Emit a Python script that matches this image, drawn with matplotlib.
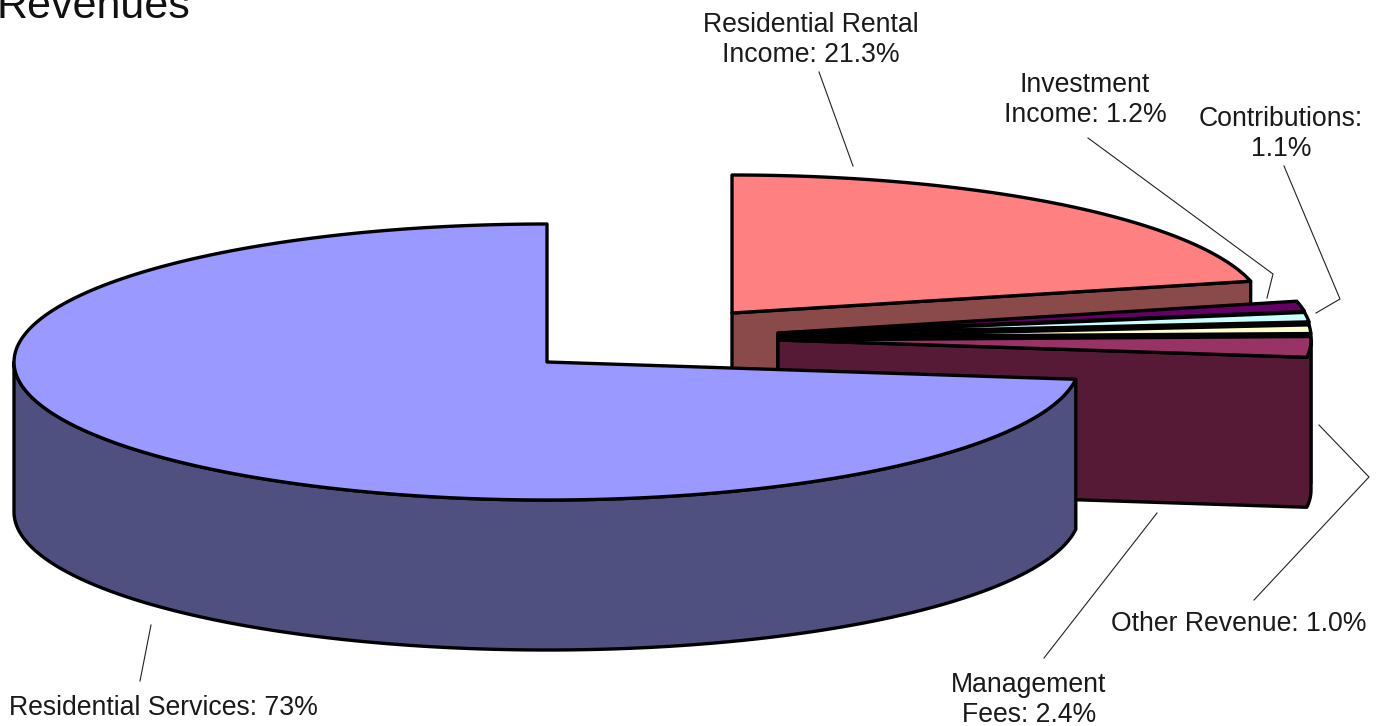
import numpy as np
import matplotlib
matplotlib.use("Agg")
import matplotlib.pyplot as plt
from matplotlib.patches import Polygon

plt.rcParams["font.family"] = ["Liberation Sans", "DejaVu Sans"]

# slices in drawing order, counter-clockwise from 12 o'clock
CATEGORIES = ["Residential Services", "Management Fees", "Other Revenue",
              "Contributions", "Investment Income", "Residential Rental Income"]
SHARES = [73.0, 2.4, 1.0, 1.1, 1.2, 21.3]
TOP_COLORS = ["#9999FF", "#993366", "#FFFFCC", "#CCFFFF", "#660066", "#FF8080"]
SIDE_COLORS = ["#4F4F80", "#561A36", "#808066", "#668080", "#330033", "#8A4A4A"]
LABELS = ["Residential Services: 73%", "Management\nFees: 2.4%", "Other Revenue: 1.0%",
          "Contributions:\n1.1%", "Investment\nIncome: 1.2%", "Residential Rental\nIncome: 21.3%"]

# pie geometry in picture pixels
RX, RY, DEPTH = 533, 138, 150
CENTERS = [(547, 362), (778, 340), (778, 337), (778, 334), (778, 333), (732, 313)]
LABEL_POS = [(163, 708), (1029, 700), (1239, 624), (1281, 134), (1085, 100), (811, 40)]
LEADERS = [
    [(151, 625), (140, 681)],
    [(1157, 513), (1044, 658)],
    [(1254, 600), (1369, 477), (1319, 425)],
    [(1284, 166), (1340, 299), (1316, 313)],
    [(1088, 138), (1273, 274), (1267, 298)],
    [(819, 72), (853, 166)],
]


def edge(cx, cy, a0, a1):
    t = np.radians(np.linspace(a0, a1, 240))
    return np.column_stack([cx + RX * np.cos(t), cy - RY * np.sin(t)])


def main():
    fig = plt.figure(figsize=(13.83, 7.26), dpi=100, facecolor="white")
    ax = fig.add_axes([0, 0, 1, 1])
    ax.set_xlim(0, 1383)
    ax.set_ylim(726, 0)
    ax.axis("off")

    ends = 90 + np.cumsum(SHARES) * 3.6
    starts = ends - np.array(SHARES) * 3.6
    style = dict(ec="black", lw=2.4, joinstyle="round")

    # back to front: rental, then the thin slices, then the big slice
    for i in [5, 4, 3, 2, 1, 0]:
        cx, cy = CENTERS[i]
        a0, a1 = starts[i], ends[i]
        if i == 0:
            # curved wall of the big slice
            rim = edge(cx, cy, 180, a1)
            side = np.vstack([rim, rim[::-1] + [0, DEPTH]])
        else:
            # radial face at the start angle, plus any rim up to the right-hand extreme
            rim = edge(cx, cy, a0, 360 if a0 % 360 > 180 else a0)
            side = np.vstack([[(cx, cy)], rim, rim[::-1] + [0, DEPTH], [(cx, cy + DEPTH)]])
        ax.add_patch(Polygon(side, fc=SIDE_COLORS[i], **style))
        top = np.vstack([[(cx, cy)], edge(cx, cy, a0, a1)])
        ax.add_patch(Polygon(top, fc=TOP_COLORS[i], **style))

    for line in LEADERS:
        xs, ys = zip(*line)
        ax.plot(xs, ys, color="#222222", lw=0.8)

    for label, (x, y) in zip(LABELS, LABEL_POS):
        ax.text(x, y, label, ha="center", va="center", fontsize=19.2,
                color="#1a1a1a", linespacing=1.22)

    ax.text(-3, 18, "Revenues", fontsize=31, color="#111111", ha="left", va="baseline")
    fig.savefig("out.png", dpi=100)


if __name__ == "__main__":
    main()
